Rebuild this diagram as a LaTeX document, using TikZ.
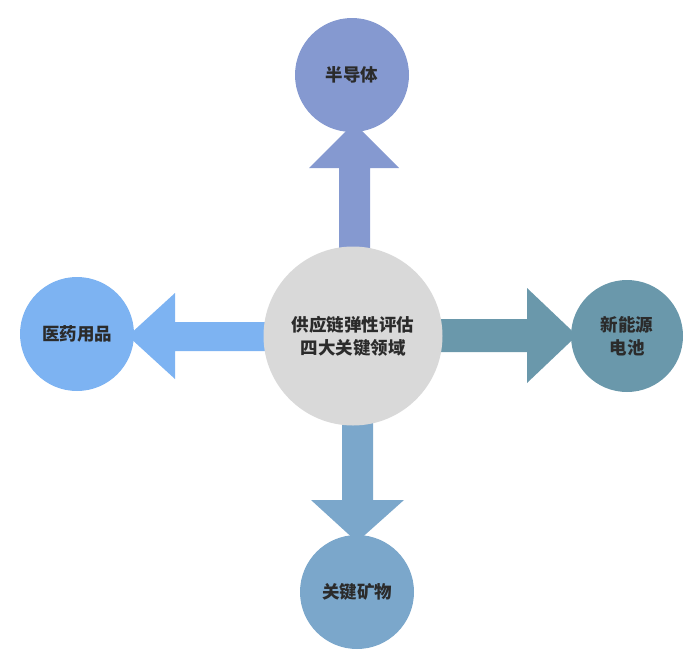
\documentclass[tikz,border=0pt]{standalone}
\usepackage{fontspec}
\newfontfamily\cjk{Noto Sans CJK SC}
\definecolor{ctrgray}{HTML}{D9D9D9}
\definecolor{topc}{HTML}{8599D0}
\definecolor{leftc}{HTML}{7DB3F2}
\definecolor{rightc}{HTML}{6A98AB}
\definecolor{botc}{HTML}{7BA7CB}
\definecolor{txt}{HTML}{2B2B2B}
\begin{document}
\begin{tikzpicture}[x=1pt,y=-1pt,
  bubble/.style={circle,inner sep=0pt,minimum size=114pt,text=txt,font=\cjk\bfseries\fontsize{17.5}{23}\selectfont,align=center},
  hub/.style={bubble,minimum size=179pt,fill=ctrgray}]
\useasboundingbox (0,0) rectangle (699,667);
% arrows (drawn first, behind circles)
\coordinate (c) at (353,336);
\fill[topc] (339,260) -- (339,168) -- (309,168) -- (354,123) -- (399,168) -- (370,168) -- (370,260) -- cycle;
\fill[leftc] (265,322) -- (175,322) -- (175,293) -- (128,336) -- (175,379) -- (175,351) -- (265,351) -- cycle;
\fill[rightc] (440,319) -- (527,319) -- (527,288) -- (577,335.5) -- (527,383) -- (527,352) -- (440,352) -- cycle;
\fill[botc] (342,420) -- (342,500) -- (311,500) -- (357,542) -- (404,500) -- (373,500) -- (373,420) -- cycle;
% circles
\node[hub] (hub) at (c) {供应链弹性评估\\四大关键领域};
\node[bubble,fill=topc] (semi) at (352,75) {半导体};
\node[bubble,fill=leftc] (med) at (77,334) {医药用品};
\node[bubble,fill=rightc,minimum size=112pt] (bat) at (627,336) {新能源\\电池};
\node[bubble,fill=botc] (min) at (357,592) {关键矿物};
\end{tikzpicture}
\end{document}
